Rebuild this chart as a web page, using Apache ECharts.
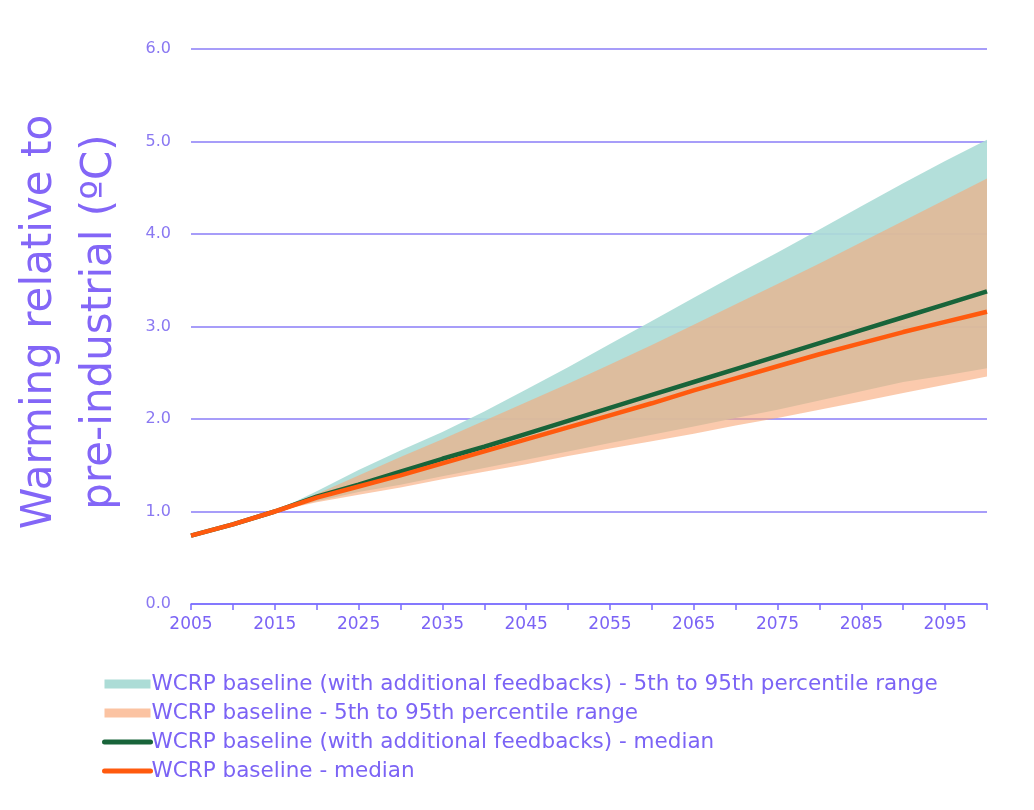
<!DOCTYPE html>
<html>
<head>
<meta charset="utf-8">
<script src="https://cdn.jsdelivr.net/npm/echarts@6/dist/echarts.min.js"></script>
<style>
html,body{margin:0;padding:0;background:#fff;}
#chart{width:1034px;height:810px;}
</style>
</head>
<body>
<div id="chart"></div>
<script>
// ---- data ----
const years = ['2005','2010','2015','2020','2025','2030','2035','2040','2045','2050','2055','2060','2065','2070','2075','2080','2085','2090','2095','2100'];
const baselineMedian = [0.74,0.86,1.00,1.15,1.27,1.39,1.52,1.65,1.78,1.91,2.04,2.17,2.31,2.44,2.57,2.70,2.82,2.94,3.05,3.16];
const feedbackMedian = [0.74,0.86,1.00,1.16,1.29,1.43,1.57,1.70,1.84,1.98,2.12,2.26,2.40,2.54,2.68,2.82,2.96,3.10,3.24,3.38];
const feedbackP95 = [0.74,0.86,1.00,1.22,1.45,1.66,1.86,2.08,2.32,2.56,2.81,3.06,3.31,3.56,3.80,4.05,4.30,4.55,4.79,5.02];
const feedbackP5  = [0.74,0.86,1.00,1.11,1.21,1.29,1.38,1.47,1.56,1.65,1.74,1.83,1.92,2.01,2.10,2.20,2.30,2.40,2.47,2.55];
const baselineP95 = [0.74,0.86,1.00,1.19,1.39,1.59,1.78,1.98,2.18,2.38,2.59,2.80,3.02,3.24,3.46,3.68,3.91,4.14,4.37,4.60];
const baselineP5  = [0.74,0.86,1.00,1.10,1.18,1.26,1.35,1.43,1.51,1.60,1.68,1.76,1.84,1.93,2.01,2.10,2.19,2.28,2.37,2.46];
const yTicks = [0,1,2,3,4,5,6];
const names = [
  'WCRP baseline (with additional feedbacks) - 5th to 95th percentile range',
  'WCRP baseline - 5th to 95th percentile range',
  'WCRP baseline (with additional feedbacks) - median',
  'WCRP baseline - median'
];

const diff = (hi, lo) => hi.map((v,i)=> +(v - lo[i]).toFixed(3));

const txt = '#7b63f5';
const font = 'DejaVu Sans';
const green = '#18643a';
const orange = '#ff5a0e';
const chart = echarts.init(document.getElementById('chart'));
chart.setOption({
  backgroundColor: '#ffffff',
  animation: false,
  textStyle: {fontFamily: font},
  grid: {left: 191, right: 47, top: 49, bottom: 206, containLabel: false},
  xAxis: {
    type: 'category', data: years, boundaryGap: false,
    axisLine: {show: true, lineStyle: {color: '#7a6cff', width: 1.5}},
    axisTick: {show: true, interval: 0, length: 6, lineStyle: {color: '#7a6cff', width: 1.5}},
    splitLine: {show: false},
    axisLabel: {color: txt, fontSize: 17, fontFamily: font, margin: 12, interval: 1}
  },
  yAxis: {
    type: 'value', min: yTicks[0], max: yTicks[yTicks.length-1], interval: 1,
    axisLine: {show: false}, axisTick: {show: false},
    splitLine: {show: true, lineStyle: {color: '#8a7cf7', width: 1.5}},
    axisLabel: {color: '#8a78f2', fontSize: 16, fontFamily: font, margin: 20,
      formatter: v => v.toFixed(1)}
  },
  legend: {
    orient: 'vertical', left: 97, top: 668, itemWidth: 46, itemHeight: 9, itemGap: 7,
    textStyle: {color: txt, fontSize: 21.5, fontFamily: font, padding: [0,0,0,-4]},
    data: [
      {name: names[0], icon: 'rect', itemStyle: {color: '#acdcd6'}},
      {name: names[1], icon: 'rect', itemStyle: {color: '#fbc3a2'}},
      {name: names[2], itemStyle: {opacity: 0}, lineStyle: {color: green, width: 5, cap: 'round'}},
      {name: names[3], itemStyle: {opacity: 0}, lineStyle: {color: orange, width: 5, cap: 'round'}}
    ]
  },
  graphic: [{
    type: 'text', x: 70, y: 322, rotation: Math.PI/2,
    style: {
      text: 'Warming relative to\npre-industrial (ºC)',
      fill: '#8366f7', font: '42px "DejaVu Sans"',
      textAlign: 'center', textVerticalAlign: 'middle', lineHeight: 60
    }
  }],
  series: [
    {name: 'fbLow', type: 'line', stack: 'fb', data: feedbackP5, symbol: 'none', showSymbol: false,
     lineStyle: {opacity: 0}, silent: true, z: 1},
    {name: names[0], type: 'line', stack: 'fb', data: diff(feedbackP95, feedbackP5), symbol: 'none', showSymbol: false,
     lineStyle: {opacity: 0}, areaStyle: {color: '#acdcd7', opacity: 0.92}, z: 1},
    {name: 'blLow', type: 'line', stack: 'bl', data: baselineP5, symbol: 'none', showSymbol: false,
     lineStyle: {opacity: 0}, silent: true, z: 2},
    {name: names[1], type: 'line', stack: 'bl', data: diff(baselineP95, baselineP5), symbol: 'none', showSymbol: false,
     lineStyle: {opacity: 0}, areaStyle: {color: 'rgb(248,166,118)', opacity: 0.6}, z: 2},
    {name: names[2], type: 'line', data: feedbackMedian, symbol: 'none', showSymbol: false,
     lineStyle: {color: green, width: 4.5}, itemStyle: {color: green}, z: 3},
    {name: names[3], type: 'line', data: baselineMedian, symbol: 'none', showSymbol: false,
     lineStyle: {color: orange, width: 4.5}, itemStyle: {color: orange}, z: 4}
  ]
});
</script>
</body>
</html>
